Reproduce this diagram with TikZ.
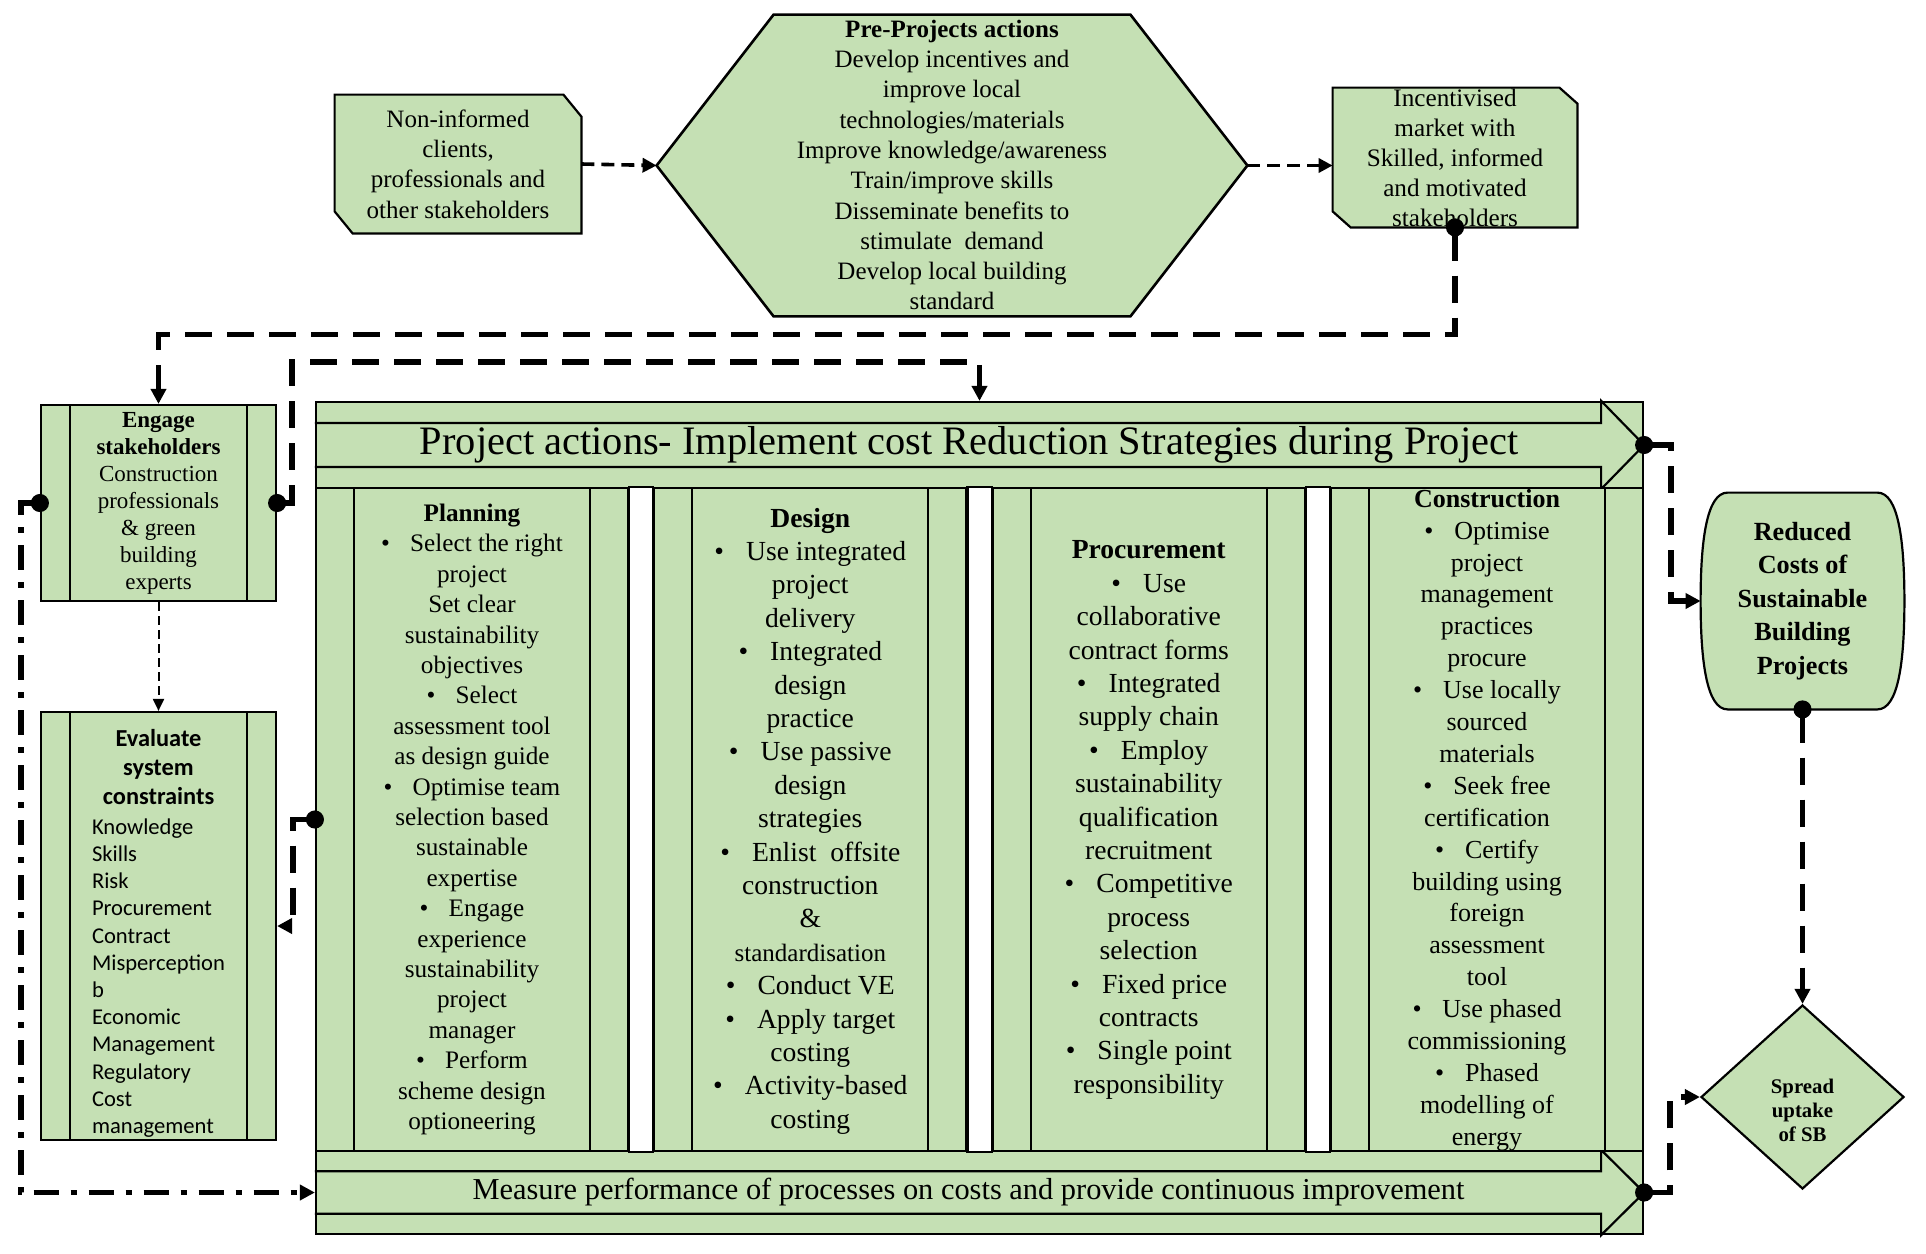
\documentclass[tikz,border=0pt]{standalone}
\usepackage{fontspec}
\setmainfont{Liberation Serif}
\newfontfamily\evalfont{Carlito}
\usetikzlibrary{shapes.geometric,arrows.meta,calc}
\definecolor{boxgreen}{HTML}{C5E0B4}
\newcommand{\bul}{\textbullet\hspace{0.8em}}

\begin{document}
\begin{tikzpicture}[x=0.5pt,y=-0.5pt,
    BoxStyle/.style = {draw, line width=1.1pt, fill=boxgreen, inner sep=0pt, align=center},
    HoldStyle/.style = {inner sep=0pt},
    ProcStyle/.style = {BoxStyle, path picture={
        \draw[line width=1.1pt] ([xshift=#1]path picture bounding box.north west) -- ([xshift=#1]path picture bounding box.south west)
          ([xshift=-#1]path picture bounding box.north east) -- ([xshift=-#1]path picture bounding box.south east);}},
    ColStyle/.style = {ProcStyle=19pt, minimum width=156pt, minimum height=331.5pt},
    BandStyle/.style = {BoxStyle, minimum width=663.5pt}]
  \useasboundingbox (0,0) rectangle (1926,1253);

  \node[HoldStyle, minimum width=123pt, minimum height=69pt] (inf) at (458,164) {};
  \node[HoldStyle, minimum width=295pt, minimum height=150.5pt] (pre) at (952,165.5) {};
  \node[HoldStyle, minimum width=122pt, minimum height=69.5pt] (inc) at (1455,157.5) {};
  \foreach \n/\a/\b in {inf/9pt/11pt,inc/9pt/8pt}
    \draw[BoxStyle] (\n.north west) -- ([xshift=-\a]\n.north east) -- ([yshift=-\b]\n.north east) -- (\n.south east)
      -- ([xshift=\a]\n.south west) -- ([yshift=\b]\n.south west) -- cycle;
  \draw[BoxStyle, line width=1.3pt] (pre.west) -- ([xshift=58.5pt]pre.north west) -- ([xshift=-58.5pt]pre.north east)
    -- (pre.east) -- ([xshift=-58.5pt]pre.south east) -- ([xshift=58.5pt]pre.south west) -- cycle;
  \node[align=center, font=\fontsize{12.5}{15.15}\selectfont] (tInf) at (inf) {Non-informed\\clients,\\professionals and\\other stakeholders};
  \node[align=center, font=\fontsize{12.5}{15.15}\selectfont] (tPre) at (952,165) {\textbf{Pre-Projects actions}\\Develop incentives and\\improve local\\technologies/materials\\Improve knowledge/awareness\\Train/improve skills\\Disseminate benefits to\\stimulate\ \ demand\\Develop local building\\standard};
  \node[align=center, font=\fontsize{12.6}{15}\selectfont] (tInc) at (1455,158) {Incentivised\\market with\\Skilled, informed\\and motivated\\stakeholders};

  \node[ProcStyle=14.5pt, minimum width=117.5pt, minimum height=98pt, font=\fontsize{11.5}{13.5}\selectfont]
    (eng) at (158.5,503) {\textbf{Engage}\\\textbf{stakeholders}\\Construction\\professionals\\\& green\\building\\experts};
  \node[ProcStyle=14.5pt, minimum width=117.5pt, minimum height=214pt] (eva) at (158.5,926) {};
  \node[align=center, inner sep=0pt, font=\evalfont\fontsize{11.3}{13.6}\selectfont] (tEva) at (158.5,935.3)
    {{\fontsize{12.2}{14}\selectfont\bfseries Evaluate}\\[1pt]{\fontsize{12.2}{14}\selectfont\bfseries system}\\[1pt]
     {\fontsize{12.2}{14}\selectfont\bfseries constraints}\\[4.3pt]
     \begin{tabular}{@{}l@{}}Knowledge\\Skills\\Risk\\Procurement\\Contract\\Misperception\\b\\Economic\\Management\\Regulatory\\Cost\\management\end{tabular}};

  \node[BoxStyle, minimum width=663.5pt, minimum height=416pt] (main) at (979.5,818) {};
  \node[BandStyle, minimum height=43pt, font=\fontsize{20.2}{24}\selectfont] (hdr) at (979.5,445)
    {Project actions- Implement cost Reduction Strategies during Project\hspace{10.4pt}};
  \node[BandStyle, minimum height=41.5pt, font=\fontsize{15.2}{18}\selectfont] (bot) at (979.5,1192.5)
    {Measure performance of processes on costs and provide continuous improvement\hspace{11pt}};
  \foreach \b in {hdr,bot}
    \draw[line width=1.1pt] ($(\b.north west)!.25!(\b.south west)$) -| ([xshift=-21.5pt]\b.north east) -- (\b.east)
      -- ([xshift=-21.5pt]\b.south east) |- ($(\b.north west)!.75!(\b.south west)$);

  \node[ColStyle] (cPl) at (472,819.5) {};
  \node[ColStyle] (cDe) at (810.3,819.5) {};
  \node[ColStyle] (cPr) at (1148.7,819.5) {};
  \node[ColStyle] (cCo) at (1487,819.5) {};
  \foreach \a/\b in {cPl/cDe,cDe/cPr,cPr/cCo}
    \draw[line width=1.1pt, fill=white] (\a.north east) rectangle (\b.south west);

  \node[align=center, font=\fontsize{12.6}{15.2}\selectfont] (tPl) at (472,819.5)
    {\textbf{Planning}\\\bul Select the right\\project\\Set clear\\sustainability\\objectives\\\bul Select\\assessment tool\\as design guide\\\bul Optimise team\\selection based\\sustainable\\expertise\\\bul Engage\\experience\\sustainability\\project\\manager\\\bul Perform\\scheme design\\optioneering};
  \node[align=center, font=\fontsize{13.8}{16.7}\selectfont] (tDe) at (810.3,821)
    {\textbf{Design}\\\bul Use integrated\\project\\delivery\\\bul Integrated\\design\\practice\\\bul Use passive\\design\\strategies\\\bul Enlist\ \ offsite\\construction\\\&\\{\fontsize{12.5}{16.7}\selectfont standardisation}\\\bul Conduct VE\\\bul Apply target\\costing\\\bul Activity-based\\costing};
  \node[align=center, font=\fontsize{13.8}{16.7}\selectfont] (tPr) at (1148.7,820)
    {\textbf{Procurement}\\\bul Use\\collaborative\\contract forms\\\bul Integrated\\supply chain\\\bul Employ\\sustainability\\qualification\\recruitment\\\bul Competitive\\process\\selection\\\bul Fixed price\\contracts\\\bul Single point\\responsibility};
  \node[align=center, font=\fontsize{13}{15.95}\selectfont] (tCo) at (1487,820)
    {\textbf{Construction}\\\bul Optimise\\project\\management\\practices\\procure\\\bul Use locally\\sourced\\materials\\\bul Seek free\\certification\\\bul Certify\\building using\\foreign\\assessment\\tool\\\bul Use phased\\commissioning\\\bul Phased\\modelling of\\energy};

  \node[HoldStyle, minimum width=101.5pt, minimum height=108pt] (red) at (1802.5,601) {};
  \draw[BoxStyle] ([xshift=13.5pt]red.north west) -- ([xshift=-13.5pt]red.north east)
    .. controls ([xshift=-3pt]red.north east) and ([yshift=-24pt]red.north east) .. (red.east)
    .. controls ([yshift=24pt]red.south east) and ([xshift=-3pt]red.south east) .. ([xshift=-13.5pt]red.south east)
    -- ([xshift=13.5pt]red.south west)
    .. controls ([xshift=3pt]red.south west) and ([yshift=24pt]red.south west) .. (red.west)
    .. controls ([yshift=-24pt]red.north west) and ([xshift=3pt]red.north west) .. cycle;
  \node[align=center, font=\fontsize{13.1}{16.7}\selectfont\bfseries] (tRed) at (red) {Reduced\\Costs of\\Sustainable\\Building\\Projects};
  \node[BoxStyle, diamond, minimum width=101.5pt, minimum height=92pt] (spr) at (1802.5,1097) {};
  \node[align=center, font=\fontsize{10.4}{12}\selectfont\bfseries] (tSpr) at (1802.5,1110) {Spread\\uptake\\of SB};

  \tikzset{LinkStyle/.style = {-{Triangle[length=7pt,width=7pt]}, line width=1.8pt, dash pattern=on 6.5pt off 3.5pt}}
  \draw[LinkStyle] (inf.east) -- (pre.west);
  \draw[LinkStyle] (pre.east) -- (pre.east -| inc.west);

  \tikzset{LinkStyle/.style = {-{Triangle[length=6pt,width=5.5pt]}, line width=1pt, dash pattern=on 4.5pt off 2.5pt}}
  \draw[LinkStyle] (eng.south) -- (eva.north);

  \tikzset{LinkStyle/.style = {{Circle[length=9pt]}-{Triangle[length=7.5pt,width=7.5pt]}, line width=2.8pt,
    dash pattern=on 13.5pt off 7.5pt, shorten <=-4.5pt}}
  \draw[LinkStyle] (inc.south) -- ++(0,107) -| (eng.north);
  \draw[LinkStyle] (eng.east) -- ++(15,0) -- ++(0,-141) -| (main.north);
  \draw[LinkStyle] (cPl.west) -- ++(-22,0) |- (eva.east);
  \draw[LinkStyle] (hdr.east) -- ++(27,0) |- (red.west);
  \draw[LinkStyle] (red.south) -- (spr.north);
  \draw[LinkStyle] (bot.east) -- ++(26,0) |- (spr.west);

  \tikzset{LinkStyle/.style = {{Circle[length=9pt]}-{Triangle[length=7.5pt,width=7.5pt]}, line width=2.8pt,
    dash pattern=on 12.5pt off 6pt on 3pt off 6pt, shorten <=-4.5pt}}
  \draw[LinkStyle] (eng.west) -- ++(-19,0) |- (bot.west);
\end{tikzpicture}
\end{document}
